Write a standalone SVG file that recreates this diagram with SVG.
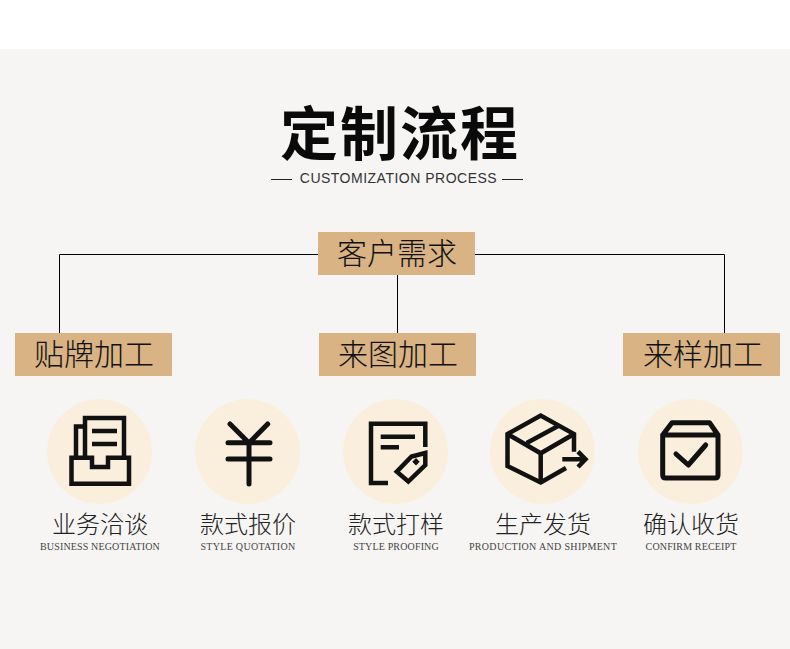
<svg xmlns="http://www.w3.org/2000/svg" width="790" height="649" viewBox="0 0 790 649">
<style>
.cjk{font-family:"Noto Sans CJK SC","Noto Sans CJK JP",serif;text-anchor:middle}
.box{fill:#d9b384}
.disc{fill:#faefdc}
.boxt{font-size:30px;font-weight:300;fill:#111}
.lab{font-size:24px;font-weight:300;fill:#222}
.en{font-family:"Liberation Serif",serif;font-size:10px;letter-spacing:.15px;fill:#444;text-anchor:middle}
.ic{fill:none;stroke:#111;stroke-width:4.500}
.rd{stroke-linecap:round;stroke-linejoin:round;stroke-width:5}
.conn{fill:none;stroke:#000;stroke-width:1}
</style>
<rect width="790" height="649" fill="#fff"/>
<rect y="49" width="790" height="600" fill="#f6f5f3"/>
<g id="title">
<text class="cjk" x="400" y="155" font-size="58" letter-spacing="2" font-weight="700" fill="#0a0a0a">定制流程</text>
<text x="398.500" y="183" font-family="Liberation Sans,sans-serif" font-size="14" letter-spacing=".5" text-anchor="middle" fill="#333">CUSTOMIZATION PROCESS</text>
<path d="M271 179.500H292M502 179.500H523" stroke="#222" fill="none"/>
</g>
<g id="connectors" class="conn">
<path d="M318 254.500H59.500V333M475 254.500H724.500V333M397.500 275V333"/>
</g>
<g id="n-demand"><rect class="box" x="318" y="232" width="157" height="43"/><text class="cjk boxt" x="397" y="264">客户需求</text></g>
<g id="n-paste"><rect class="box" x="15" y="333" width="157" height="43"/><text class="cjk boxt" x="94" y="365">贴牌加工</text></g>
<g id="n-drawing"><rect class="box" x="319" y="333" width="157" height="43"/><text class="cjk boxt" x="398" y="365">来图加工</text></g>
<g id="n-sample"><rect class="box" x="623" y="333" width="157" height="43"/><text class="cjk boxt" x="703" y="365">来样加工</text></g>
<g id="s-negotiation">
<circle class="disc" cx="99.500" cy="451.500" r="52.500"/>
<path class="ic" d="M71.500 457.700H92V467H108V457.700H129V483.700H71.500Z"/>
<path class="ic" d="M85 457.700V418H124V457.700M85 426.500H76V457.700"/>
<path class="ic" d="M92 431H117M92 444H117"/>
<text class="cjk lab" x="100" y="533">业务洽谈</text>
<text class="en" x="100" y="550">BUSINESS NEGOTIATION</text>
</g>
<g id="s-quotation">
<circle class="disc" cx="247.500" cy="451.500" r="52.500"/>
<path class="ic rd" d="M230 424L249 443L267.700 424M228 442.700H270M228 459H270M249 443V484"/>
<text class="cjk lab" x="248" y="533">款式报价</text>
<text class="en" x="248" y="550" style="letter-spacing:.3px">STYLE QUOTATION</text>
</g>
<g id="s-proofing">
<circle class="disc" cx="395.500" cy="451.500" r="52.500"/>
<path class="ic" d="M388 483H371V423.700H425.300V447"/>
<path class="ic" stroke-width="5" d="M380.700 436.700H415M380.700 447.300H399"/>
<path class="ic" d="M425.300 453L411.500 456.500L396.800 471.700L408.300 481.500L425.300 465Z"/>
<path d="M416 458L419.700 461.700L416 465.400L412.300 461.700Z" fill="#111"/>
<text class="cjk lab" x="396" y="533">款式打样</text>
<text class="en" x="396" y="550">STYLE PROOFING</text>
</g>
<g id="s-shipment">
<circle class="disc" cx="542.500" cy="451.500" r="52.500"/>
<path class="ic" d="M574 451.700V434L540.700 415.500L507.500 434V466L540.700 482.500L566 468M507.500 434L540.700 453.300L574 434M540.700 453.300V482.500M526.700 443L560 425"/>
<path class="ic" d="M562.300 459.300H585M578 451.700L585.500 459.300L578 467"/>
<text class="cjk lab" x="543" y="533">生产发货</text>
<text class="en" x="543" y="550" style="letter-spacing:.33px">PRODUCTION AND SHIPMENT</text>
</g>
<g id="s-receipt">
<circle class="disc" cx="690.500" cy="451.500" r="52.500"/>
<path class="ic rd" d="M662.700 435H718M662.700 435L672 422.700H709.500L718 435V475Q718 478 715 478H665.700Q662.700 478 662.700 475Z"/>
<path class="ic rd" d="M676 454L688.300 465L705.700 445"/>
<text class="cjk lab" x="691" y="533">确认收货</text>
<text class="en" x="691" y="550">CONFIRM RECEIPT</text>
</g>
</svg>
